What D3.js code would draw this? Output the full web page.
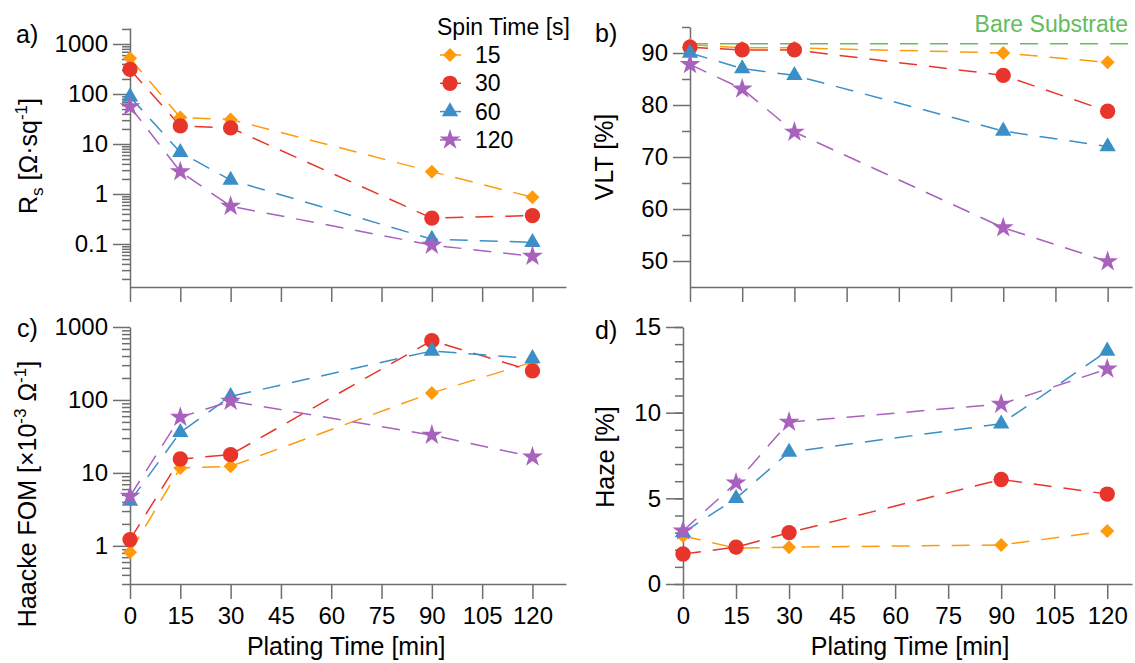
<!DOCTYPE html>
<html>
<head>
<meta charset="utf-8">
<script src="https://cdn.jsdelivr.net/npm/d3@7"></script>
<style>
    body { margin: 0; background: #fff; }
    text { font-family: "Liberation Sans", Arial, Helvetica, sans-serif; }
</style>
</head>
<body>
<svg id="chart" width="1135" height="663"></svg>
<script>
// plating time [min] on every x axis
const platingTime = [0, 15, 30, 90, 120];
const xTickValues = [0, 15, 30, 45, 60, 75, 90, 105, 120];
const spinTimes = ["15", "30", "60", "120"];

// a) sheet resistance [ohm/sq]
const rsSpin15 = [520, 34, 31, 2.8, 0.86];
const rsSpin30 = [310, 23, 21, 0.33, 0.37];
const rsSpin60 = [88, 6.8, 1.9, 0.125, 0.108];
const rsSpin120 = [56, 2.8, 0.57, 0.095, 0.057];
const rsTicks = [0.1, 1, 10, 100, 1000];

// b) visible light transmission [%]
const vltSpin15 = [91.6, 91.0, 91.0, 90.0, 88.2];
const vltSpin30 = [91.1, 90.6, 90.6, 85.7, 78.8];
const vltSpin60 = [90.0, 87.0, 85.7, 75.0, 72.0];
const vltSpin120 = [87.8, 83.1, 74.8, 56.4, 49.9];
const vltBareSubstrate = 91.8;
const vltTicks = [50, 60, 70, 80, 90];

// c) Haacke figure of merit [x10^-3 1/ohm]
const fomSpin15 = [0.82, 11.7, 12.3, 125, 330];
const fomSpin30 = [1.22, 15.5, 17.8, 650, 250];
const fomSpin60 = [4.1, 36, 112, 470, 370];
const fomSpin120 = [4.8, 58, 96, 33, 16.6];
const fomTicks = [1, 10, 100, 1000];

// d) haze [%]
const hazeSpin15 = [2.8, 2.1, 2.15, 2.28, 3.1];
const hazeSpin30 = [1.75, 2.15, 3.0, 6.1, 5.25];
const hazeSpin60 = [3.0, 5.0, 7.7, 9.35, 13.6];
const hazeSpin120 = [3.1, 5.9, 9.45, 10.5, 12.55];
const hazeTicks = [0, 5, 10, 15];

const COLORS = ['#ff9a0a', '#e8352b', '#3b8fc7', '#a862bd'];
const BARE_COLOR = '#62bd5e';
const AXIS_COLOR = '#6e6e6e';
const DASH = '18,12';

const SYMBOLS = [
    { type: d3.symbolDiamond2, size: 125 },
    { type: d3.symbolCircle, size: 185 },
    { type: d3.symbolTriangle, size: 115 },
    { type: d3.symbolStar, size: 135 }
];

const svg = d3.select('#chart');

function logMinorTicks(domain) {
    let ticks = [];
    let lo = Math.floor(Math.log10(domain[0]));
    let hi = Math.ceil(Math.log10(domain[1]));
    for (let e = lo; e <= hi; e++) {
        for (let k = 2; k <= 9; k++) {
            let v = k * Math.pow(10, e);
            if (v >= domain[0] && v <= domain[1]) ticks.push(v);
        }
    }
    return ticks;
}

function styleAxis(sel) {
    sel.select('.domain').attr('stroke', AXIS_COLOR).attr('stroke-width', 1.5);
    sel.selectAll('.tick line').attr('stroke', AXIS_COLOR).attr('stroke-width', 1.5);
    sel.selectAll('.tick text')
        .attr('fill', '#000')
        .style('font-family', '"Liberation Sans", Arial, sans-serif')
        .style('font-size', '24px');
}

function drawPanel(p) {
    let g = svg.append('g');
    let x = d3.scaleLinear().domain(p.xDomain).range(p.xRange);
    let y = (p.log ? d3.scaleLog() : d3.scaleLinear()).domain(p.yDomain).range(p.yRange);

    // minor y ticks
    g.append('g')
        .attr('transform', `translate(${p.xRange[0]},0)`)
        .call(d3.axisLeft(y).tickValues(p.yMinor).tickSize(8).tickSizeOuter(0).tickFormat(''))
        .call(styleAxis)
        .select('.domain').remove();

    g.append('g')
        .attr('transform', `translate(${p.xRange[0]},0)`)
        .call(d3.axisLeft(y).tickValues(p.yMajor).tickSize(17).tickSizeOuter(0).tickPadding(5)
            .tickFormat(d3.format('~g')))
        .call(styleAxis);

    g.append('g')
        .attr('transform', `translate(0,${p.yRange[0]})`)
        .call(d3.axisBottom(x).tickValues(xTickValues).tickSize(15).tickSizeOuter(0).tickPadding(8)
            .tickFormat(p.xLabels ? d3.format('d') : ''))
        .call(styleAxis);

    if (p.bare !== undefined) {
        g.append('line')
            .attr('x1', p.xRange[0]).attr('x2', p.xRange[1])
            .attr('y1', y(p.bare)).attr('y2', y(p.bare))
            .attr('stroke', BARE_COLOR).attr('stroke-width', 1.5)
            .attr('stroke-dasharray', DASH);
        g.append('text')
            .attr('x', 1128).attr('y', 32)
            .attr('text-anchor', 'end')
            .attr('fill', BARE_COLOR)
            .style('font-size', '23px')
            .text('Bare Substrate');
    }

    let line = d3.line()
        .x((d, i) => x(platingTime[i]))
        .y(d => y(d));

    p.series.forEach((values, s) => {
        g.append('path')
            .attr('d', line(values))
            .attr('fill', 'none')
            .attr('stroke', COLORS[s])
            .attr('stroke-width', 1.5)
            .attr('stroke-dasharray', DASH);
    });

    p.series.forEach((values, s) => {
        g.selectAll(null)
            .data(values)
            .join('path')
            .attr('transform', (d, i) => `translate(${x(platingTime[i])},${y(d)})`)
            .attr('d', d3.symbol().type(SYMBOLS[s].type).size(SYMBOLS[s].size))
            .attr('fill', COLORS[s]);
    });

    g.append('text')
        .attr('x', p.label[0]).attr('y', p.label[1])
        .style('font-size', '25px')
        .text(p.name);

    let title = g.append('text')
        .attr('transform', `translate(${p.titlePos[0]},${p.titlePos[1]}) rotate(-90)`)
        .attr('text-anchor', 'middle')
        .style('font-size', '25px');
    p.title(title);

    if (p.xLabels) {
        g.append('text')
            .attr('x', (p.xRange[0] + x(120)) / 2 + 15).attr('y', 655)
            .attr('text-anchor', 'middle')
            .style('font-size', '25px')
            .text('Plating Time [min]');
    }
}

function sup(t, s) {
    t.append('tspan').attr('dy', -10).style('font-size', '17px').text(s);
    return t.append('tspan').attr('dy', 10);
}

drawPanel({
    name: 'a)', label: [16, 43],
    xDomain: [0, 130], xRange: [130, 566],
    log: true, yDomain: [0.0138, 2090], yRange: [287, 28],
    yMajor: rsTicks, yMinor: logMinorTicks([0.0138, 2090]),
    series: [rsSpin15, rsSpin30, rsSpin60, rsSpin120],
    titlePos: [37, 156],
    title: t => {
        t.append('tspan').text('R');
        t.append('tspan').attr('dy', 6).style('font-size', '17px').text('s');
        sup(t.append('tspan').attr('dy', -6).text(' [Ω·sq'), '-1').text(']');
    }
});

drawPanel({
    name: 'b)', label: [595, 42],
    xDomain: [0, 127], xRange: [690, 1132],
    log: false, yDomain: [45, 95], yRange: [287, 27],
    yMajor: vltTicks, yMinor: [55, 65, 75, 85, 95],
    series: [vltSpin15, vltSpin30, vltSpin60, vltSpin120],
    bare: vltBareSubstrate,
    titlePos: [613, 157],
    title: t => t.text('VLT [%]')
});

drawPanel({
    name: 'c)', label: [17, 337],
    xDomain: [0, 130], xRange: [130, 566], xLabels: true,
    log: true, yDomain: [0.3, 1000], yRange: [584, 327],
    yMajor: fomTicks, yMinor: logMinorTicks([0.3, 1000]),
    series: [fomSpin15, fomSpin30, fomSpin60, fomSpin120],
    titlePos: [36, 494],
    title: t => {
        t.append('tspan').text('Haacke FOM [×10');
        sup(sup(t, '-3').text(' Ω'), '-1').text(']');
    }
});

drawPanel({
    name: 'd)', label: [595, 339],
    xDomain: [0, 127], xRange: [683, 1132], xLabels: true,
    log: false, yDomain: [0, 15], yRange: [584, 327],
    yMajor: hazeTicks, yMinor: d3.range(0, 16),
    series: [hazeSpin15, hazeSpin30, hazeSpin60, hazeSpin120],
    titlePos: [614, 457],
    title: t => t.text('Haze [%]')
});

// legend
let legend = svg.append('g');
legend.append('text')
    .attr('x', 437).attr('y', 35)
    .style('font-size', '23px')
    .text('Spin Time [s]');
spinTimes.forEach((name, s) => {
    let cy = 55 + s * 28.3;
    legend.append('line')
        .attr('x1', 440).attr('x2', 461).attr('y1', cy).attr('y2', cy)
        .attr('stroke', COLORS[s]).attr('stroke-width', 1.5);
    legend.append('path')
        .attr('transform', `translate(450,${cy})`)
        .attr('d', d3.symbol().type(SYMBOLS[s].type).size(SYMBOLS[s].size))
        .attr('fill', COLORS[s]);
    legend.append('text')
        .attr('x', 475).attr('y', cy + 8)
        .style('font-size', '23px')
        .text(name);
});
</script>
</body>
</html>
